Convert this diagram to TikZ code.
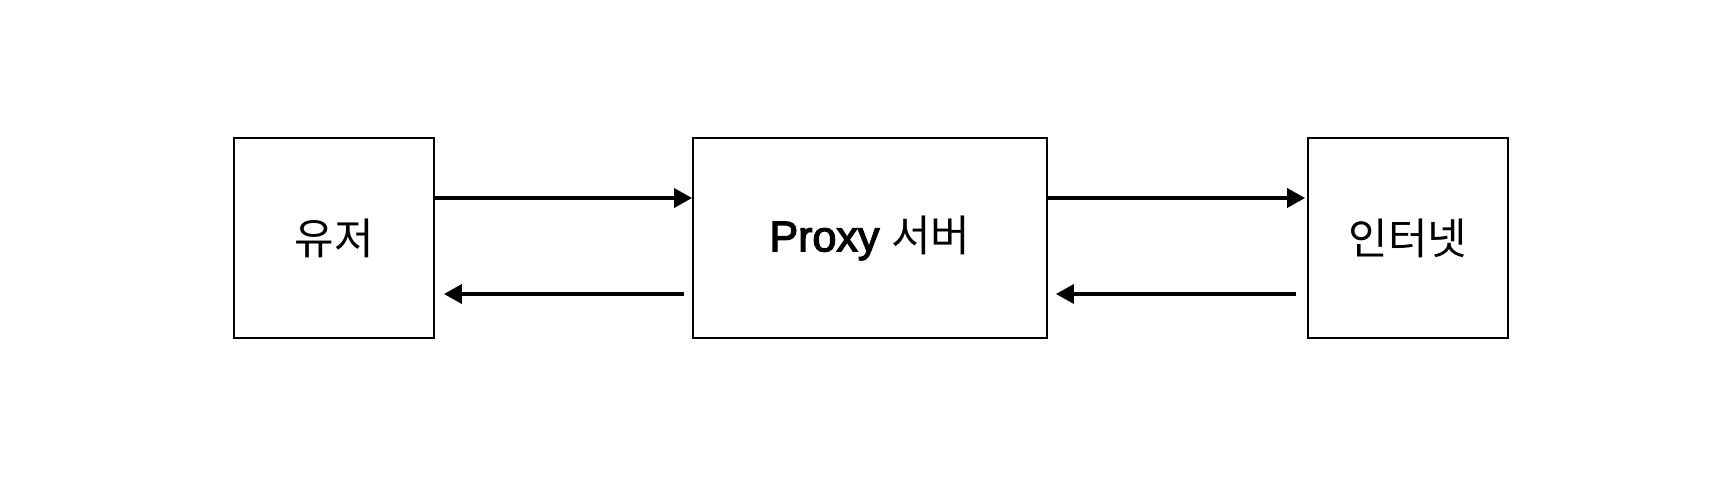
\documentclass[tikz,border=0pt]{standalone}
\usepackage{fontspec}
\setmainfont{Liberation Sans}
\newfontfamily\kr{Noto Sans CJK KR}
\newfontfamily\proxyfont[FakeBold=3]{Liberation Sans}
\usetikzlibrary{arrows.meta}
\begin{document}
\begin{tikzpicture}[x=1pt,y=-1pt,
  boxnode/.style={draw=black,line width=1.8pt,inner sep=0pt,font=\fontsize{43}{50}\selectfont},
  conn/.style={line width=3.5pt,-{Triangle[length=18pt,width=19pt]}}]
\useasboundingbox[fill=white] (0,0) rectangle (1726,480);
\node[boxnode,minimum width=200pt,minimum height=200pt] (u) at (334,238) {\kr 유저};
\node[boxnode,minimum width=354pt,minimum height=200pt] (p) at (870,238) {{\proxyfont Proxy} {\kr 서버}};
\node[boxnode,minimum width=200pt,minimum height=200pt] (i) at (1408,238) {\kr 인터넷};
\draw[conn] (u.east |- 0,198) -- (p.west |- 0,198);
\draw[conn] ([xshift=-8pt]p.west |- 0,294) -- ([xshift=9pt]u.east |- 0,294);
\draw[conn] ([xshift=-1pt]p.east |- 0,198) -- ([xshift=-2pt]i.west |- 0,198);
\draw[conn] ([xshift=-11pt]i.west |- 0,294) -- ([xshift=8pt]p.east |- 0,294);
\end{tikzpicture}
\end{document}
